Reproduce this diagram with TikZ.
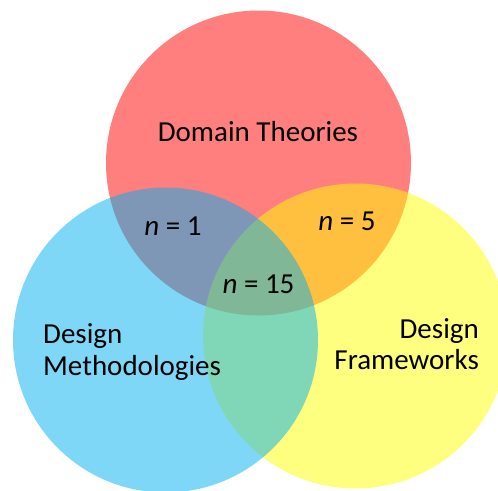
\documentclass[tikz,border=0pt]{standalone}
\usepackage{fontspec}
\setmainfont{Carlito}
\definecolor{cred}{RGB}{255,0,0}
\definecolor{cyel}{RGB}{255,255,0}
\definecolor{cblu}{RGB}{0,176,240}
\begin{document}
\begin{tikzpicture}[x=1pt,y=-1pt,
  set/.style={fill opacity=0.5, draw=none},
  lab/.style={inner sep=0pt, font=\fontsize{29}{32}\selectfont, text=black}]
\useasboundingbox[fill=white] (0,0) rectangle (498,490);
\fill[set, cred] (258.5,163) circle (152.5);
\fill[set, cyel] (355.5,336) circle (152.5);
\fill[set, cblu] (165.5,340) circle (152.5);
\node[lab, anchor=base] (dt) at (258,141) {Domain Theories};
\node[lab, anchor=base] (n1) at (173,235) {\textit{n} = 1};
\node[lab, anchor=base] (n5) at (347,230) {\textit{n} = 5};
\node[lab, anchor=base] (n15) at (258.5,293) {\textit{n} = 15};
\node[lab, anchor=base west] (dm1) at (43,343) {Design};
\node[lab, anchor=base west] (dm2) at (43,375) {Methodologies};
\node[lab, anchor=base east] (df1) at (479,338) {Design};
\node[lab, anchor=base east] (df2) at (479,369) {Frameworks};
\end{tikzpicture}
\end{document}
